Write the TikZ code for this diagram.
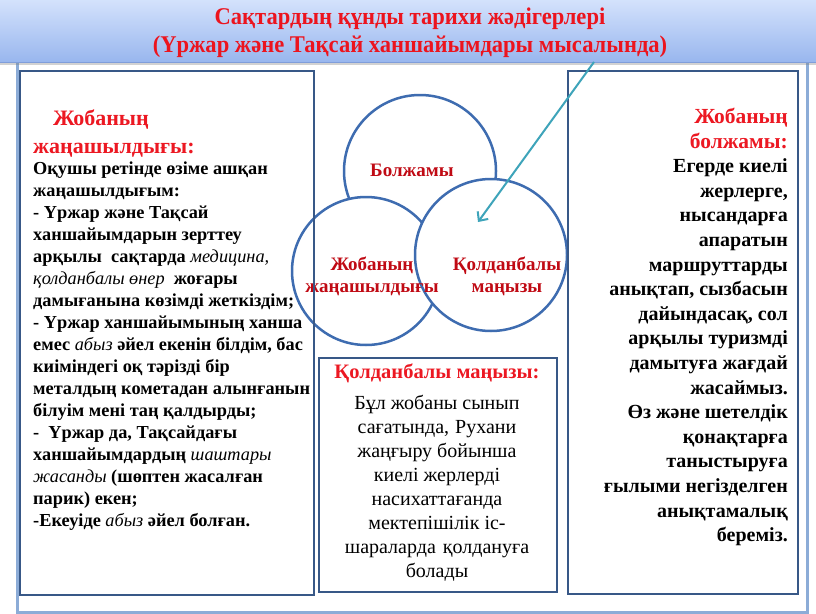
\documentclass[tikz,border=0pt]{standalone}
\usepackage{fontspec}
\setmainfont{Liberation Serif}
\newfontfamily\titlefont{Liberation Serif}[FakeStretch=0.94]
\usetikzlibrary{arrows.meta,shadows}
\definecolor{titlered}{RGB}{236,20,30}
\definecolor{headred}{RGB}{236,24,34}
\definecolor{circred}{RGB}{192,10,20}
\definecolor{boxblue}{RGB}{56,88,135}
\definecolor{framblue}{RGB}{140,172,215}
\definecolor{circblue}{RGB}{62,108,176}
\definecolor{arrteal}{RGB}{62,164,186}
\definecolor{bantop}{RGB}{212,226,252}
\definecolor{banbot}{RGB}{152,182,238}
\definecolor{banedge}{RGB}{128,158,218}
\tikzset{
  panel/.style={draw=boxblue, line width=2pt, anchor=north west, inner sep=0pt},
  ring/.style={draw=circblue, line width=2.5pt, fill=white, circle, inner sep=0pt, minimum size=152pt},
  ringtext/.style={text=circred, font=\fontsize{19}{22}\selectfont\bfseries, align=center, inner sep=0pt},
  bodyL/.style={font=\fontsize{18.3}{22}\selectfont\bfseries, align=left, inner sep=0pt, anchor=north west},
  bodyR/.style={font=\fontsize{20}{24.6}\selectfont\bfseries, align=right, inner sep=0pt, anchor=north east},
  bodyM/.style={font=\fontsize{20}{24}\selectfont, align=center, inner sep=0pt, anchor=north},
  arr/.style={draw=arrteal, line width=2pt, -{Straight Barb[length=7pt,width=13pt]}}
}
\begin{document}
\begin{tikzpicture}[x=1pt,y=-1pt]
\useasboundingbox (0,0) rectangle (816,613);
\fill[white] (0,0) rectangle (816,613);
% outer frame
\node[draw=framblue, line width=3pt, anchor=north west, minimum width=790pt, minimum height=566pt, inner sep=0pt] (frame) at (16,45) {};
% banner
\node[anchor=north west, minimum width=818pt, minimum height=63pt, inner sep=0pt,
      top color=bantop, bottom color=banbot, draw=banedge, line width=0.8pt,
      drop shadow={shadow xshift=0pt, shadow yshift=-3pt, opacity=0.35}] (banner) at (-1,-1) {};
\node[text=titlered, font=\titlefont\fontsize{24}{28}\selectfont\bfseries, align=center] (title) at (410,33)
  {Сақтардың құнды тарихи жәдігерлері\\(Үржар және Тақсай ханшайымдары мысалында)};
% circles
\node[ring] (cTop) at (420,171) {};
\node[ring, minimum size=148pt] (cLeft) at (366,271) {};
\node[ring] (cRight) at (491,255) {};
\node[ringtext] (tTop) at (412,170) {Болжамы};
\node[ringtext] (tLeft) at (372,276) {Жобаның\\жаңашылдығы};
\node[ringtext] (tRight) at (507,276) {Қолданбалы\\маңызы};
% panels
\node[panel, minimum width=294pt, minimum height=524pt] (leftbox) at (19,70) {};
\node[panel, minimum width=230pt, minimum height=523pt] (rightbox) at (567,70) {};
\node[panel, minimum width=238pt, minimum height=234pt, fill=white] (midbox) at (318,357) {};
% left text
\node[text=headred, font=\fontsize{22}{28}\selectfont\bfseries, align=left, inner sep=0pt, anchor=north west] (lhead) at (33,109.5)
  {\hspace*{20pt}Жобаның\\жаңашылдығы:};
\node[bodyL] (lbody) at (33,162)
  {Оқушы ретінде өзіме ашқан\\
   жаңашылдығым:\\
   - Үржар және Тақсай\\
   ханшайымдарын зерттеу\\
   арқылы\ \ сақтарда {\mdseries\itshape медицина,}\\
   {\mdseries\itshape қолданбалы өнер}\ \ жоғары\\
   дамығанына көзімді жеткіздім;\\
   - Үржар ханшайымының ханша\\
   емес {\mdseries\itshape абыз} әйел екенін білдім, бас\\
   киіміндегі оқ тәрізді бір\\
   металдың кометадан алынғанын\\
   білуім мені таң қалдырды;\\
   -\ \ Үржар да, Тақсайдағы\\
   ханшайымдардың {\mdseries\itshape шаштары}\\
   {\mdseries\itshape жасанды} (шөптен жасалған\\
   парик) екен;\\
   -Екеуіде {\mdseries\itshape абыз} әйел болған.};
% right text
\node[bodyR] (rbody) at (788,108)
  {\textcolor{headred}{\fontsize{21.5}{24.6}\selectfont Жобаның}\\
   \textcolor{headred}{\fontsize{21.5}{24.6}\selectfont болжамы:}\\
   Егерде киелі\\
   жерлерге,\\
   нысандарға\\
   апаратын\\
   маршруттарды\\
   анықтап, сызбасын\\
   дайындасақ, сол\\
   арқылы туризмді\\
   дамытуға жағдай\\
   жасаймыз.\\
   Өз және шетелдік\\
   қонақтарға\\
   таныстыруға\\
   ғылыми негізделген\\
   анықтамалық\\
   береміз.};
% middle text
\node[text=headred, font=\fontsize{20.5}{22}\selectfont\bfseries, inner sep=0pt] (mhead) at (437,373) {Қолданбалы маңызы:};
\node[bodyM] (mbody) at (437,395)
  {Бұл жобаны сынып\\
   сағатында,\hspace{6pt}Рухани\\
   жаңғыру бойынша\\
   киелі жерлерді\\
   насихаттағанда\\
   мектепішілік іс-\\
   шараларда\hspace{7pt}қолдануға\\
   болады};
% arrow
\coordinate (arrstart) at (594,62);
\coordinate (arrtip) at (478,222);
\draw[arr] (arrstart) -- (arrtip);
\end{tikzpicture}
\end{document}
